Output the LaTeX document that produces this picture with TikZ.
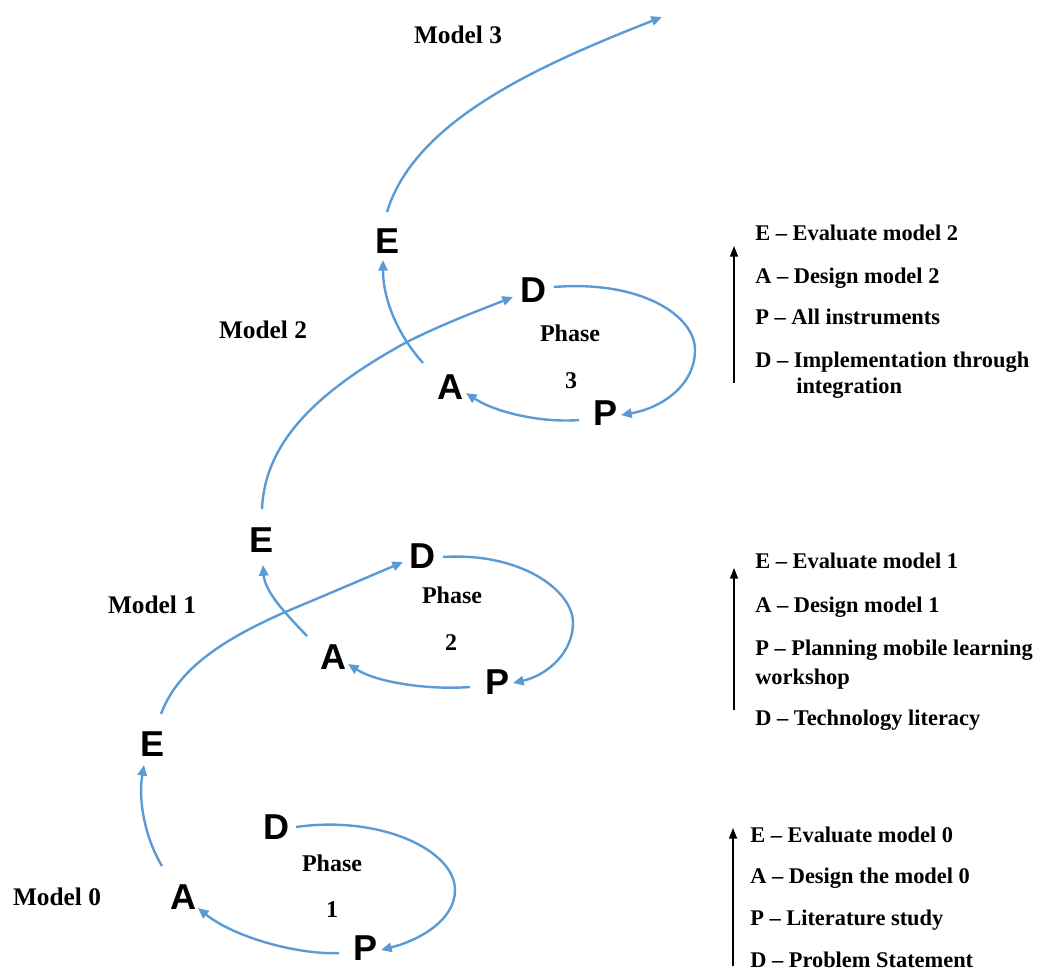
\documentclass[tikz,border=0pt]{standalone}
\usepackage{fontspec}
\setmainfont{Liberation Serif}
\newfontfamily\stagefont{Liberation Sans}
\usetikzlibrary{arrows.meta,calc}
\definecolor{cycleblue}{HTML}{5B9BD5}
\tikzset{
  letter/.style={font=\stagefont\bfseries\fontsize{27}{27}\selectfont, inner sep=0pt},
  phase/.style={font=\bfseries\fontsize{18}{18}\selectfont, inner sep=0pt},
  modellabel/.style={font=\bfseries\fontsize{19}{19}\selectfont, inner sep=0pt},
  legend/.style={font=\bfseries\fontsize{16.8}{16.8}\selectfont, anchor=base west, inner sep=0pt},
  flow/.style={draw=cycleblue, line width=1.8pt, -{Triangle[length=8pt,width=7pt]}},
  order/.style={draw=black, line width=1.1pt, -{Triangle[length=8pt,width=6pt]}},
}
\begin{document}
\begin{tikzpicture}[x=0.75pt,y=-0.75pt]
\useasboundingbox (0,0) rectangle (1037,972);

% ---- phase 1 ----
\node[letter] (D1) at (276,827) {D};
\node[letter] (P1) at (365,948) {P};
\node[letter] (A1) at (183,897) {A};
\node[letter] (E1) at (153,744) {E};
\node[phase] (ph1) at (332,863) {Phase};
\node[phase] (n1) at (332,910) {1};
\node[modellabel] (m0) at (57,897) {Model 0};

% ---- phase 2 ----
\node[letter] (D2) at (422,556) {D};
\node[letter] (P2) at (497,682) {P};
\node[letter] (A2) at (333,657) {A};
\node[letter] (E2) at (262,540) {E};
\node[phase] (ph2) at (452,595) {Phase};
\node[phase] (n2) at (451,643) {2};
\node[modellabel] (m1) at (152,605) {Model 1};

% ---- phase 3 ----
\node[letter] (D3) at (533,290) {D};
\node[letter] (P3) at (605,413) {P};
\node[letter] (A3) at (450,387) {A};
\node[letter] (E3) at (387,241) {E};
\node[phase] (ph3) at (570,333) {Phase};
\node[phase] (n3) at (571,381) {3};
\node[modellabel] (m2) at (263,330) {Model 2};
\node[modellabel] (m3) at (458,35) {Model 3};
\coordinate (top) at (662,17);

% ---- cycle 1 ----
\draw[flow] ($(D1)+(20,0)$) .. controls (380,815) and (455,850) .. (455,890)
  .. controls (455,920) and (420,940) .. ($(P1)+(16,2)$);
\draw[flow] ($(P1)+(-26,5)$) .. controls (300,955) and (235,938) .. ($(A1)+(15,11)$);
\draw[flow] ($(A1)+(-21,-31)$) .. controls (145,838) and (138,800) .. ($(E1)+(-9,21)$);

% ---- cycle 2 ----
\draw[flow] ($(E1)+(8,-30)$) .. controls (178,668) and (225,638) .. (290,610)
  .. controls (340,589) and (375,574) .. ($(D2)+(-19,6)$);
\draw[flow] ($(D2)+(21,1)$) .. controls (520,552) and (573,590) .. (573,623)
  .. controls (573,652) and (548,675) .. ($(P2)+(16,1)$);
\draw[flow] ($(P2)+(-27,5)$) .. controls (430,690) and (378,683) .. ($(A2)+(15,7)$);
\draw[flow] ($(A2)+(-26,-21)$) .. controls (285,613) and (265,592) .. ($(E2)+(1,25)$);

% ---- cycle 3 ----
\draw[flow] ($(E2)+(0,-31)$) .. controls (265,440) and (320,390) .. (405,343)
  .. controls (440,325) and (480,310) .. ($(D3)+(-20,7)$);
\draw[flow] ($(D3)+(21,-3)$) .. controls (640,280) and (695,315) .. (695,350)
  .. controls (695,385) and (662,408) .. ($(P3)+(16,2)$);
\draw[flow] ($(P3)+(-26,7)$) .. controls (540,423) and (495,412) .. ($(A3)+(16,6)$);
\draw[flow] ($(A3)+(-27,-24)$) .. controls (398,335) and (383,300) .. ($(E3)+(-4,19)$);
\draw[flow] ($(E3)+(0,-29)$) .. controls (415,120) and (540,65) .. (top);

% ---- legend for phase 3 ----
\coordinate (k3b) at (734,383);
\coordinate (k3t) at (734,246);
\draw[order] (k3b) -- (k3t);
\node[legend] (k3e) at (755,240) {E – Evaluate model 2};
\node[legend] (k3a) at (755,283) {A – Design model 2};
\node[legend] (k3p) at (755,324) {P – All instruments};
\node[legend] (k3d) at (755,367) {D – Implementation through};
\node[legend] (k3d2) at (796,393) {integration};

% ---- legend for phase 2 ----
\coordinate (k2b) at (734,710);
\coordinate (k2t) at (734,568);
\draw[order] (k2b) -- (k2t);
\node[legend] (k2e) at (755,568) {E – Evaluate model 1};
\node[legend] (k2a) at (755,612) {A – Design model 1};
\node[legend] (k2p) at (755,655) {P – Planning mobile learning};
\node[legend] (k2p2) at (755,684) {workshop};
\node[legend] (k2d) at (755,725) {D – Technology literacy};

% ---- legend for phase 1 ----
\coordinate (k1b) at (733,966);
\coordinate (k1t) at (733,828);
\draw[order] (k1b) -- (k1t);
\node[legend] (k1e) at (750,842) {E – Evaluate model 0};
\node[legend] (k1a) at (750,883) {A – Design the model 0};
\node[legend] (k1p) at (750,925) {P – Literature study};
\node[legend] (k1d) at (750,967) {D – Problem Statement};
\end{tikzpicture}
\end{document}
